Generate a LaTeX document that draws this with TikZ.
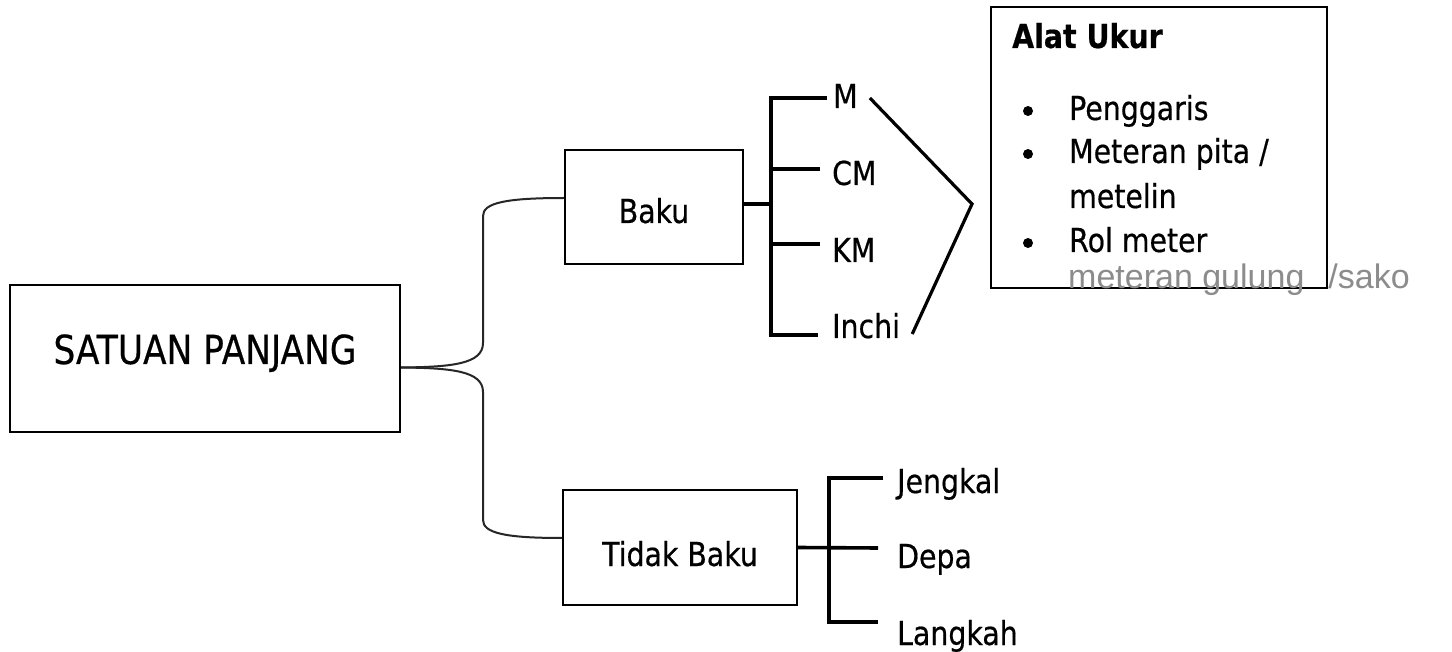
\documentclass[tikz,border=0pt]{standalone}
\usepackage{fontspec}
\setmainfont{DejaVu Sans}[FakeStretch=0.86, FakeBold=0.5]
\newfontfamily\hand{Liberation Sans}
\newcommand\labfont{\fontsize{33}{40}\selectfont}
\begin{document}
\begin{tikzpicture}[x=1pt,y=-1pt,
  box/.style={draw, line width=2pt, inner sep=0pt, font=\labfont},
  lab/.style={anchor=base west, inner sep=0pt, font=\labfont},
  br/.style={line width=3.6pt},
  conn/.style={line width=2pt, draw=black!85},
  bul/.style={circle, fill=black, inner sep=0pt, minimum size=10pt}]
\useasboundingbox[fill=white] (0,0) rectangle (1452,652);

% main boxes
\node[box, minimum width=390pt, minimum height=147pt, text height=20pt, text depth=9pt,
      font=\fontsize{40}{46}\selectfont] (sp) at (205,358.5) {SATUAN PANJANG};
\node[box, minimum width=178pt, minimum height=114pt, text height=32pt, text depth=0pt] (baku) at (654,207) {Baku};
\node[box, minimum width=234pt, minimum height=115pt, text height=37pt, text depth=0pt] (tb) at (680,547.5) {Tidak Baku};

% curved connectors
\coordinate (j0) at ([yshift=-9pt]sp.east);
\draw[conn] (j0) .. controls (452,367) and (483,364) .. (483,343) -- (483,216)
  .. controls (483,203) and (505,198) .. ([yshift=9pt]baku.west);
\draw[conn] (j0) .. controls (452,368) and (483,371) .. (483,392) -- (483,520)
  .. controls (483,533) and (505,538) .. ([yshift=9.5pt]tb.west);

% Baku labels
\node[lab] (m) at (833,108) {M};
\node[lab] (cm) at (832,185) {CM};
\node[lab] (km) at (832,262) {KM};
\node[lab] (inchi) at (832,338) {Inchi};

\coordinate (bx) at (771,0);
\coordinate (mE) at ([xshift=-6pt,yshift=10pt]m.base west);
\coordinate (iE) at ([xshift=-14pt,yshift=3pt]inchi.base west);
\coordinate (cE) at ([xshift=-12pt,yshift=16pt]cm.base west);
\coordinate (kE) at ([xshift=-12pt,yshift=18pt]km.base west);
\coordinate (bE) at ([yshift=3pt]baku.east);
\draw[br] (mE) -- (mE -| bx) -- (iE -| bx) -- (iE);
\draw[br] (cE) -- (cE -| bx);
\draw[br] (kE) -- (kE -| bx);
\draw[br] (bE) -- (bE -| bx);

% V to the Alat Ukur box
\coordinate (apex) at (972,204);
\draw[line width=3.2pt] ([xshift=12pt,yshift=10pt]m.base east) -- (apex) -- ([xshift=12pt,yshift=4pt]inchi.base east);

% Tidak Baku labels
\node[lab] (jk) at (897,493) {Jengkal};
\node[lab] (dp) at (897,568) {Depa};
\node[lab] (lk) at (897,645) {Langkah};

\coordinate (tx) at (829,0);
\coordinate (jE) at ([xshift=-14pt,yshift=15pt]jk.base west);
\coordinate (lE) at ([xshift=-19pt,yshift=23pt]lk.base west);
\coordinate (dE) at ([xshift=-19pt,yshift=20pt]dp.base west);
\draw[br] (jE) -- (jE -| tx) -- (lE -| tx) -- (lE);
\draw[br] (tb.east) -- (dE);

% Alat Ukur box
\node[draw, line width=2pt, minimum width=336pt, minimum height=281pt, inner sep=0pt] (alat) at (1159,147.5) {};
\node[anchor=base west, inner sep=0pt, font=\labfont\bfseries] (title) at (1012,48) {Alat Ukur};
\node[bul] (b1) at (1028,111) {};
\node[bul] (b2) at (1028,154) {};
\node[bul] (b3) at (1028,243) {};
\node[lab] (i1) at (1069,120) {Penggaris};
\node[lab] (i2) at (1069,163) {Meteran pita /};
\node[lab] (i3) at (1069,208) {metelin};
\node[lab] (i4) at (1069,252) {Rol meter};

% handwritten note
\node[anchor=base west, inner sep=0pt, text=black!45, font=\hand\fontsize{34}{38}\selectfont] (hw) at (1068,289) {meteran gulung\hspace{24pt}/sako};
\end{tikzpicture}
\end{document}
